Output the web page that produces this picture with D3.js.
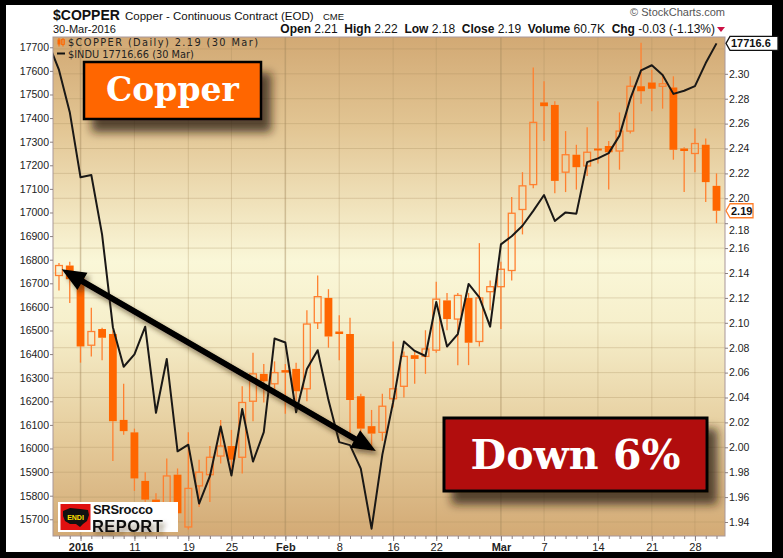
<!DOCTYPE html>
<html><head><meta charset="utf-8">
<script src="https://cdn.jsdelivr.net/npm/d3@7"></script>
<style>body{margin:0;background:#000;} svg{display:block}</style>
</head><body><svg id="c" width="783" height="558"></svg>
<script>
// ---------- DATA ----------
const dates = ["2015-12-29","2015-12-30","2015-12-31","2016-01-04","2016-01-05","2016-01-06","2016-01-07","2016-01-08",
"2016-01-11","2016-01-12","2016-01-13","2016-01-14","2016-01-15","2016-01-19","2016-01-20","2016-01-21","2016-01-22",
"2016-01-25","2016-01-26","2016-01-27","2016-01-28","2016-01-29","2016-02-01","2016-02-02","2016-02-03","2016-02-04","2016-02-05",
"2016-02-08","2016-02-09","2016-02-10","2016-02-11","2016-02-12","2016-02-16","2016-02-17","2016-02-18","2016-02-19",
"2016-02-22","2016-02-23","2016-02-24","2016-02-25","2016-02-26","2016-02-29","2016-03-01","2016-03-02","2016-03-03","2016-03-04",
"2016-03-07","2016-03-08","2016-03-09","2016-03-10","2016-03-11","2016-03-14","2016-03-15","2016-03-16","2016-03-17","2016-03-18",
"2016-03-21","2016-03-22","2016-03-23","2016-03-24","2016-03-28","2016-03-29","2016-03-30"];

const copperOpen  = [null,2.138,2.146,2.138,2.082,2.095,2.091,2.022,2.012,1.973,1.958,1.945,1.978,1.936,1.969,1.978,1.993,
2.001,1.992,2.037,2.059,2.051,2.062,2.063,2.047,2.100,2.120,2.093,2.091,2.041,2.017,2.012,2.039,2.049,2.074,2.073,
2.078,2.118,2.103,2.120,2.085,2.125,2.129,2.142,2.191,2.211,2.277,2.275,2.221,2.235,2.226,2.240,2.242,2.238,2.254,2.290,
2.293,2.290,2.289,2.240,2.236,2.243,2.21];
const copperHigh  = [null,2.148,2.149,2.140,2.112,2.096,2.094,2.051,2.015,1.980,1.963,1.991,1.983,2.012,1.990,2.001,2.022,
2.014,2.049,2.076,2.067,2.069,2.067,2.068,2.110,2.138,2.127,2.106,2.104,2.043,2.030,2.043,2.085,2.077,2.077,2.094,
2.133,2.124,2.124,2.124,2.164,2.134,2.149,2.201,2.221,2.305,2.294,2.278,2.254,2.243,2.257,2.278,2.246,2.269,2.298,2.325,
2.303,2.300,2.298,2.241,2.256,2.248,2.22];
const copperLow   = [null,2.126,2.116,2.068,2.073,2.070,1.989,2.010,1.965,1.951,1.940,1.940,1.940,1.934,1.952,1.956,1.987,
1.979,1.979,2.021,2.036,2.046,2.027,2.037,2.037,2.095,2.080,2.070,2.011,2.003,1.997,2.005,2.032,2.040,2.051,2.059,
2.076,2.094,2.066,2.066,2.081,2.110,2.095,2.134,2.171,2.208,2.246,2.204,2.205,2.207,2.218,2.228,2.207,2.223,2.252,2.276,
2.270,2.272,2.231,2.205,2.221,2.197,2.18];
const copperClose = [null,2.146,2.135,2.081,2.093,2.088,2.021,2.013,1.975,1.958,1.947,1.977,1.947,1.967,1.980,1.992,2.001,
1.990,2.036,2.059,2.053,2.060,2.060,2.045,2.099,2.121,2.089,2.091,2.038,2.015,2.011,2.033,2.047,2.073,2.071,2.079,
2.119,2.103,2.122,2.084,2.120,2.129,2.143,2.188,2.210,2.261,2.274,2.214,2.235,2.225,2.237,2.239,2.237,2.254,2.290,2.286,
2.288,2.292,2.239,2.238,2.244,2.213,2.19];

const induClose = [17720.98,17603.87,17425.03,17148.94,17158.66,16906.51,16514.10,16346.45,16398.57,16516.22,16151.41,16379.05,
15988.08,16016.02,15766.74,15882.68,16093.51,15885.22,16167.23,15944.46,16069.64,16466.30,16449.18,16153.54,16336.66,16416.58,
16204.97,16027.05,16014.38,15914.74,15660.18,15973.84,16196.41,16453.83,16413.43,16391.99,16620.66,16431.78,16484.99,16697.29,
16639.97,16516.50,16865.08,16899.32,16943.90,17006.77,17073.95,16964.10,17000.36,16995.13,17213.31,17229.13,17251.53,17325.76,
17481.49,17602.30,17623.87,17582.57,17502.59,17515.73,17535.39,17633.11,17716.66];

const xTickDates  = ["2016-01-04","2016-01-11","2016-01-19","2016-01-25","2016-02-01","2016-02-08","2016-02-16","2016-02-22",
"2016-03-01","2016-03-07","2016-03-14","2016-03-21","2016-03-28"];
const xTickLabels = ["2016","11","19","25","Feb","8","16","22","Mar","7","14","21","28"];
const xTickMajor  = [true,false,false,false,true,false,false,false,true,false,false,false,false];
const leftTicks  = d3.range(15700, 17701, 100);
const rightTicks = d3.range(194, 231, 2).map(v => v/100);

// ---------- LAYOUT ----------
const L = 53, R = 725, T = 37, B = 536;
const svg = d3.select("#c");
svg.append("rect").attr("width",783).attr("height",558).attr("fill","#000");
svg.append("rect").attr("x",6).attr("y",5).attr("width",766).attr("height",547).attr("fill","#fff");

const x  = d3.scaleLinear().domain([0, dates.length-1]).range([48.2, 716.5]);
const yR = d3.scaleLinear().domain([1.92876, 2.32956]).range([B, T]);
const yL = d3.scaleLinear().domain([15629.2, 17743.6]).range([B, T]);

const defs = svg.append("defs");
const g = defs.append("linearGradient").attr("id","bg").attr("x1",0).attr("y1",0).attr("x2",0).attr("y2",1);
[[0,"#d2a974"],[0.18,"#e2c593"],[0.45,"#faf7d8"],[0.58,"#f6efcb"],[0.8,"#e5cc9c"],[1,"#d3aa75"]].forEach(s=>
  g.append("stop").attr("offset",s[0]).attr("stop-color",s[1]));
defs.append("clipPath").attr("id","clip").append("rect").attr("x",L).attr("y",T).attr("width",R-L).attr("height",B-T);
const sh = defs.append("filter").attr("id","shadow").attr("x","-20%").attr("y","-20%").attr("width","150%").attr("height","170%");
sh.append("feDropShadow").attr("dx",9).attr("dy",12).attr("stdDeviation",5).attr("flood-color","#2a1c08").attr("flood-opacity",0.75);
const sh2 = defs.append("filter").attr("id","shadow2").attr("x","-10%").attr("y","-10%").attr("width","130%").attr("height","130%");
sh2.append("feDropShadow").attr("dx",3).attr("dy",4).attr("stdDeviation",2.5).attr("flood-color","#3a2a10").attr("flood-opacity",0.55);

svg.append("rect").attr("x",L).attr("y",T).attr("width",R-L).attr("height",B-T).attr("fill","url(#bg)");

// gridlines
const grid = svg.append("g");
grid.selectAll("line.h").data(rightTicks.concat([2.32]).filter(v=>yR(v)>T && yR(v)<B)).join("line")
  .attr("x1",L).attr("x2",R).attr("y1",d=>yR(d)).attr("y2",d=>yR(d))
  .attr("stroke","#a58a5e").attr("stroke-opacity",0.3).attr("stroke-width",1);
grid.selectAll("line.v").data(xTickDates).join("line")
  .attr("x1",d=>x(dates.indexOf(d))).attr("x2",d=>x(dates.indexOf(d))).attr("y1",T).attr("y2",B)
  .attr("stroke","#a58a5e").attr("stroke-opacity",(d,i)=>xTickMajor[i]?0.45:0.3).attr("stroke-width",(d,i)=>xTickMajor[i]?1.5:1);

// candles
const plot = svg.append("g").attr("clip-path","url(#clip)");
const idx = d3.range(dates.length).filter(i=>copperOpen[i]!=null);
const wickCol = "#ff8030", bodyCol = "#ff6600";
idx.forEach(i=>{
  const cx = x(i), o = copperOpen[i], c = copperClose[i];
  const top = yR(Math.max(o,c)), bot = yR(Math.min(o,c));
  const hollow = c > o;
  plot.append("line").attr("x1",cx).attr("x2",cx).attr("y1",yR(copperHigh[i])).attr("y2",top)
    .attr("stroke",wickCol).attr("stroke-width",1.3);
  plot.append("line").attr("x1",cx).attr("x2",cx).attr("y1",bot).attr("y2",yR(copperLow[i]))
    .attr("stroke",wickCol).attr("stroke-width",1.3);
  const h = Math.max(bot-top, 2);
  if (hollow) {
    plot.append("rect").attr("x",cx-3.4).attr("y",top).attr("width",6.8).attr("height",h)
      .attr("fill","none").attr("stroke",wickCol).attr("stroke-width",1.3);
  } else {
    plot.append("rect").attr("x",cx-3.9).attr("y",top).attr("width",7.8).attr("height",h).attr("fill",bodyCol);
  }
});

// INDU line
plot.append("path").datum(induClose.map((v,i)=>[i,v]))
  .attr("d", d3.line().x(d=>x(d[0])).y(d=>yL(d[1])))
  .attr("fill","none").attr("stroke","#1a1816").attr("stroke-width",2).attr("stroke-linejoin","round");

// plot frame
svg.append("rect").attr("x",L).attr("y",T).attr("width",R-L).attr("height",B-T)
  .attr("fill","none").attr("stroke","#a8979a").attr("stroke-width",1);

// axes
const axFont = "'Liberation Sans', Arial, sans-serif";
const la = svg.append("g").attr("transform",`translate(${L},0)`)
  .call(d3.axisLeft(yL).tickValues(leftTicks).tickSize(3).tickPadding(1).tickFormat(d3.format("d")));
const ra = svg.append("g").attr("transform",`translate(${R},0)`)
  .call(d3.axisRight(yR).tickValues(rightTicks).tickSize(3).tickPadding(1).tickFormat(d3.format(".2f")));
const ba = svg.append("g").attr("transform",`translate(0,${B})`)
  .call(d3.axisBottom(x).tickValues(d3.range(1,dates.length)).tickSize(3).tickFormat(""));
const bl = svg.append("g").attr("transform",`translate(0,${B})`)
  .call(d3.axisBottom(x).tickValues(xTickDates.map(d=>dates.indexOf(d))).tickSize(5).tickPadding(2)
    .tickFormat((d,i)=>xTickLabels[i]));
[la,ra,ba,bl].forEach(a=>{
  a.select(".domain").remove();
  a.selectAll("line").attr("stroke","#8a7f80");
  a.selectAll("text").attr("font-family",axFont).attr("font-size","10.5px").attr("fill","#222");
});
bl.selectAll("text").attr("font-size","11px").attr("font-weight",(d,i)=>xTickMajor[i]?"bold":"normal");
ra.selectAll(".tick").filter(d=>Math.abs(d-2.18)<1e-6).select("text").attr("dy","0.95em");

// header
const hdr = svg.append("g").attr("font-family",axFont).attr("fill","#111");
hdr.append("text").attr("x",53).attr("y",20).attr("font-size","14px").attr("font-weight","bold").text("$COPPER");
hdr.append("text").attr("x",125).attr("y",19.5).attr("font-size","11.5px").text("Copper - Continuous Contract (EOD)");
hdr.append("text").attr("x",323).attr("y",19.5).attr("font-size","9.5px").text("CME");
hdr.append("text").attr("x",53).attr("y",32.5).attr("font-size","11px").text("30-Mar-2016");
hdr.append("text").attr("x",725).attr("y",16).attr("text-anchor","end").attr("font-size","11px").attr("fill","#555").text("© StockCharts.com");
const stat = hdr.append("text").attr("x",715).attr("y",32.5).attr("text-anchor","end").attr("font-size","12px").attr("style","white-space:pre");
[["Open",1],[" 2.21  ",0],["High",1],[" 2.22  ",0],["Low",1],[" 2.18  ",0],["Close",1],[" 2.19  ",0],
 ["Volume",1],[" 60.7K  ",0],["Chg",1],[" -0.03 (-1.13%)",0]].forEach(p=>
  stat.append("tspan").attr("font-weight",p[1]?"bold":"normal").text(p[0]));
hdr.append("path").attr("d","M717,27 L725,27 L721,32 Z").attr("fill","#cc1144");

// legend
const lg = svg.append("g").attr("font-family","'DejaVu Sans', Verdana, sans-serif").attr("font-size","9.8px").attr("fill","#222");
lg.append("line").attr("x1",59).attr("x2",59).attr("y1",38).attr("y2",46.5).attr("stroke","#ff6600").attr("stroke-width",1);
lg.append("rect").attr("x",57.5).attr("y",39.5).attr("width",3).attr("height",5).attr("fill","#ff6600");
lg.append("line").attr("x1",63).attr("x2",63).attr("y1",38).attr("y2",46.5).attr("stroke","#ff6600").attr("stroke-width",1);
lg.append("rect").attr("x",61.5).attr("y",39.5).attr("width",3).attr("height",5).attr("fill","none").attr("stroke","#ff6600").attr("stroke-width",0.8);
lg.append("text").attr("x",68).attr("y",46).attr("textLength",190).text("$COPPER (Daily) 2.19 (30 Mar)");
lg.append("line").attr("x1",57).attr("x2",65).attr("y1",53.5).attr("y2",53.5).attr("stroke","#111").attr("stroke-width",2);
lg.append("text").attr("x",68).attr("y",57.5).text("$INDU 17716.66 (30 Mar)");

// value tags
function tag(yv, txt, col, w){
  const t = svg.append("g");
  t.append("path").attr("d",`M${R+1},${yv} L${R+5},${yv-7} L${R+5+w},${yv-7} L${R+5+w},${yv+7} L${R+5},${yv+7} Z`)
    .attr("fill","#fff").attr("stroke",col).attr("stroke-width",1.3);
  t.append("text").attr("x",R+6).attr("y",yv+4).attr("font-family",axFont).attr("font-size","11px")
    .attr("font-weight","bold").attr("fill","#111").text(txt);
}
tag(yL(17716.66), "17716.6", "#111", 48);
tag(yR(2.19), "2.19", "#ff7f2a", 23);

// arrow (double headed)
function arrow(x1,y1,x2,y2){
  const ang = Math.atan2(y2-y1,x2-x1), len = Math.hypot(x2-x1,y2-y1);
  const hl = 24, hw = 10, sw = 3;
  const pts = [[0,0],[hl,-hw],[hl,-sw],[len-hl,-sw],[len-hl,-hw],[len,0],[len-hl,hw],[len-hl,sw],[hl,sw],[hl,hw]];
  const c = Math.cos(ang), s = Math.sin(ang);
  const p = pts.map(q=>[x1+q[0]*c-q[1]*s, y1+q[0]*s+q[1]*c]);
  svg.append("path").attr("d","M"+p.map(q=>q.join(",")).join("L")+"Z").attr("fill","#000").attr("filter","url(#shadow2)");
}
arrow(x(1.25), yR(2.143), x(30.4), yR(1.997));

// Copper label box
const cb = svg.append("g");
cb.append("rect").attr("x",84).attr("y",62).attr("width",177).attr("height",57)
  .attr("fill","#ff6600").attr("stroke","#000").attr("stroke-width",2.5).attr("filter","url(#shadow)");
cb.append("text").attr("x",172.5).attr("y",101).attr("text-anchor","middle").attr("font-family","'DejaVu Serif', serif")
  .attr("font-weight","bold").attr("font-size","33px").attr("fill","#fff").text("Copper");

// Down 6% box
const db = svg.append("g");
db.append("rect").attr("x",444).attr("y",418).attr("width",263).attr("height",73)
  .attr("fill","#b10f0f").attr("stroke","#000").attr("stroke-width",3).attr("filter","url(#shadow)");
db.append("text").attr("x",575.5).attr("y",469).attr("text-anchor","middle").attr("font-family","'DejaVu Serif', serif")
  .attr("font-weight","bold").attr("font-size","41px").attr("fill","#fff").text("Down 6%");

// SRSrocco logo
const lo = svg.append("g").attr("transform","translate(58,502)");
lo.append("rect").attr("width",120).attr("height",30).attr("fill","#fff");
lo.append("rect").attr("x",2.5).attr("y",2).attr("width",30).attr("height",26).attr("fill","#e01010");
lo.append("path").attr("d","M5,9 L12,6 L22,7 L30,8 L31,13 L29,19 L25,22 L22,25 L18,22 L12,22 L7,19 L5,14 Z").attr("fill","#111");
lo.append("text").attr("x",17.5).attr("y",18).attr("text-anchor","middle").attr("font-family",axFont)
  .attr("font-size","7px").attr("font-weight","bold").attr("fill","#ffe000").text("ENDI");
lo.append("text").attr("x",35).attr("y",11.5).attr("font-family",axFont).attr("font-size","13px").attr("font-weight","bold")
  .attr("letter-spacing","-0.3").attr("fill","#111").text("SRSrocco");
lo.append("text").attr("x",34).attr("y",29.5).attr("font-family",axFont).attr("font-size","16.5px").attr("font-weight","bold")
  .attr("letter-spacing","0.4").attr("fill","#111").attr("filter","url(#shadow2)").text("REPORT");
</script></body></html>
